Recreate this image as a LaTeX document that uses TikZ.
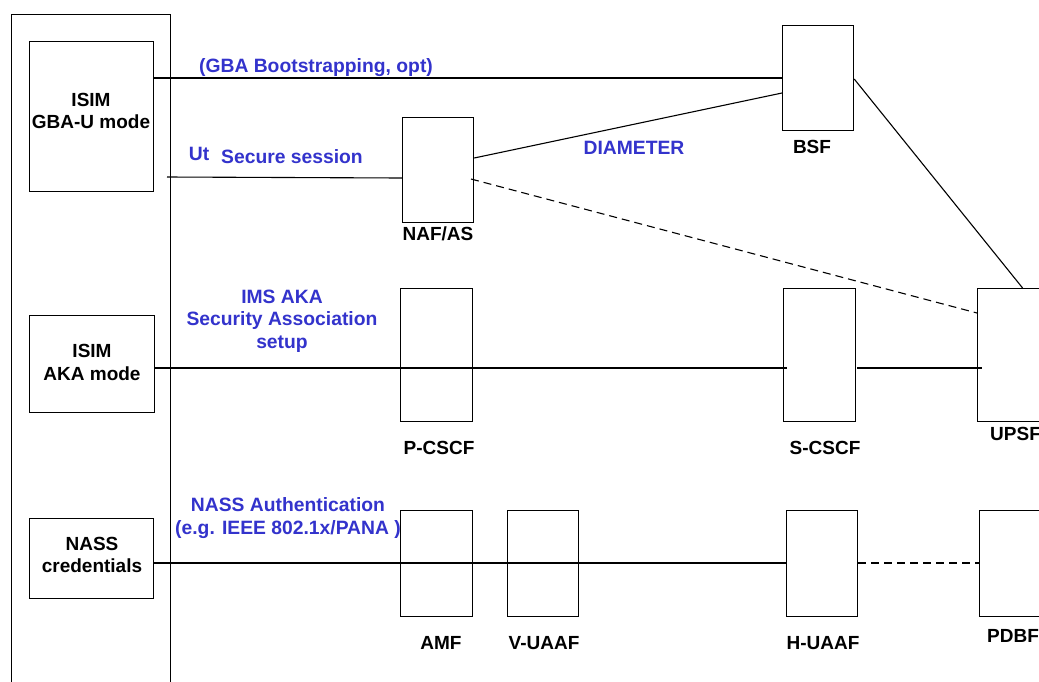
\documentclass[tikz,border=0pt]{standalone}
\usepackage{fontspec}
\setmainfont{Liberation Sans}
\begin{document}
\begin{tikzpicture}[x=1pt,y=-1pt,
  box/.style={draw, line width=1.2pt, inner sep=0pt, anchor=north west},
  conn/.style={line width=1.1pt},
  dconn/.style={line width=1.1pt, dash pattern=on 8pt off 5pt},
  lbl/.style={font=\fontsize{19}{22.5}\selectfont\bfseries, align=center, inner sep=0pt, text=black},
  blbl/.style={font=\fontsize{19.3}{22.5}\selectfont\bfseries, align=center, inner sep=0pt, text=bluelbl}]
\definecolor{bluelbl}{RGB}{51,51,204}
\path[use as bounding box, clip] (0,0) rectangle (1039,681);
\fill[white] (0,0) rectangle (1039,681);
% boxes
\node[box, minimum width=159pt, minimum height=720pt] (outer) at (11,14) {};
\node[box, minimum width=124pt, minimum height=150pt] (isimg) at (29,41) {};
\node[box, minimum width=125pt, minimum height=97pt] (isima) at (29,315) {};
\node[box, minimum width=124pt, minimum height=80pt] (nass) at (29,518) {};
\node[box, minimum width=71pt, minimum height=105pt] (naf) at (402,117) {};
\node[box, minimum width=71pt, minimum height=105pt] (bsf) at (782,25) {};
\node[box, minimum width=72pt, minimum height=133pt] (pcscf) at (400,288) {};
\node[box, minimum width=72pt, minimum height=133pt] (scscf) at (783,288) {};
\node[box, minimum width=90pt, minimum height=133pt] (upsf) at (977,288) {};
\node[box, minimum width=72pt, minimum height=106pt] (amf) at (400,510) {};
\node[box, minimum width=71pt, minimum height=106pt] (vuaaf) at (507,510) {};
\node[box, minimum width=71pt, minimum height=106pt] (huaaf) at (786,510) {};
\node[box, minimum width=90pt, minimum height=106pt] (pdbf) at (979,510) {};
% box texts
\node[lbl] (tisimg) at (91,111) {ISIM\\GBA-U mode};
\node[lbl] (tisima) at (92,362.5) {ISIM\\AKA mode};
\node[lbl] (tnass) at (92,555) {NASS\\credentials};
\node[lbl] (tnaf) at (438,234) {NAF/AS};
\node[lbl] (tbsf) at (812,147) {BSF};
\node[lbl] (tpcscf) at (439,448) {P-CSCF};
\node[lbl] (tscscf) at (825,448) {S-CSCF};
\node[lbl, anchor=west] (tupsf) at (990,434) {UPSF};
\node[lbl] (tamf) at (441,643) {AMF};
\node[lbl] (tvuaaf) at (544,643) {V-UAAF};
\node[lbl] (thuaaf) at (823,643) {H-UAAF};
\node[lbl, anchor=west] (tpdbf) at (987,636) {PDBF};
% connectors
\coordinate (utstart) at (167,177);
\draw[conn] (isimg.east |- 0,78) -- (bsf.west |- 0,78);
\draw[conn] (utstart) -- (naf.west |- 0,178);
\draw[conn] (naf.east |- 0,158) -- (bsf.west |- 0,93);
\draw[conn] (bsf.east |- 0,79) -- (1013,288 -| upsf.north);
\draw[dconn] (471,179) -- (upsf.west |- 0,313);
\draw[conn] (isima.east |- 0,368) -- (787,368);
\draw[conn] (857,368) -- (982,368);
\draw[conn] (nass.east |- 0,563) -- (huaaf.west |- 0,563);
\draw[dconn] (huaaf.east |- 0,563) -- (pdbf.west |- 0,563);
% blue labels
\node[blbl] (lgba) at (316,68) {(GBA Bootstrapping, opt)};
\node[blbl] (lut) at (199,154) {Ut};
\node[blbl] (lsec) at (292,157) {Secure session};
\node[blbl] (ldia) at (634,148) {DIAMETER};
\node[blbl] (lims) at (282,321) {IMS AKA\\Security Association\\setup};
\node[blbl] (lnassa) at (288,518) {NASS Authentication\\(e.g. IEEE 802.1x/PANA )};
\end{tikzpicture}
\end{document}
